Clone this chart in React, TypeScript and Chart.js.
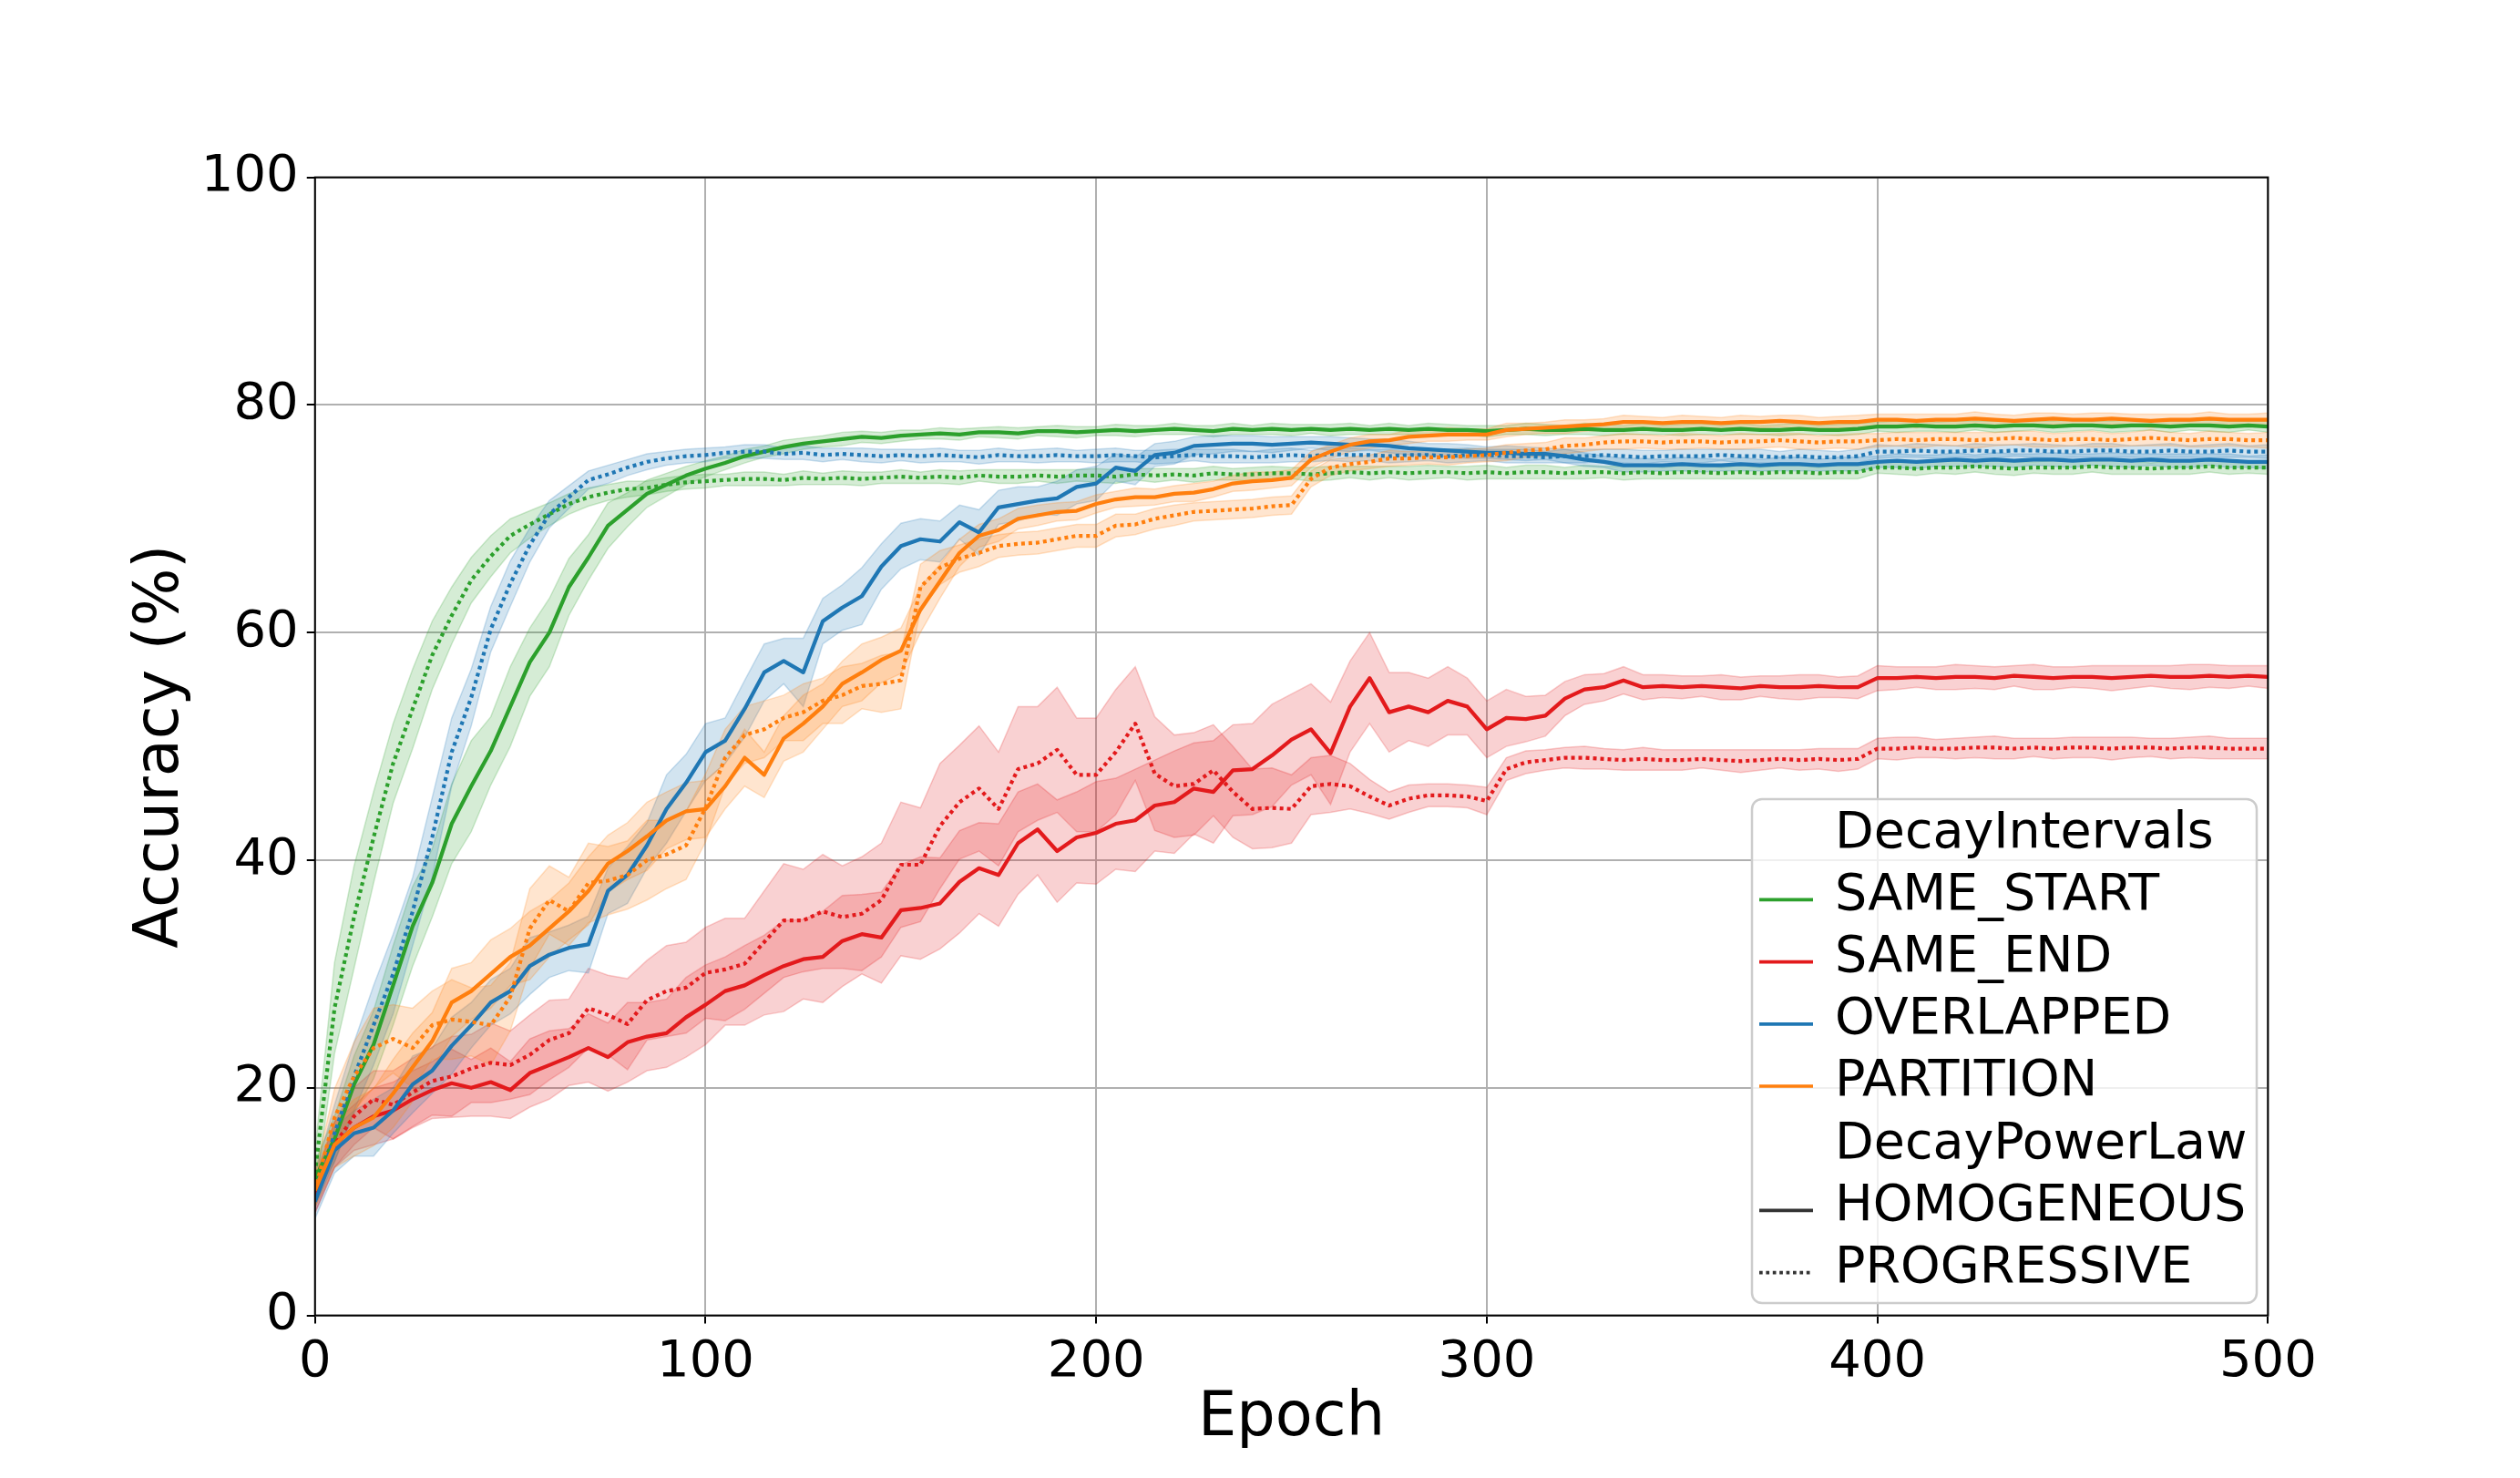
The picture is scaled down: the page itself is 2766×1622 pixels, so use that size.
import { useEffect, useRef } from "react"
import { Chart, registerables } from "chart.js"

Chart.register(...registerables)

// epochs sampled every 5 (0..500)
const epochs = Array.from({ length: 101 }, (_, i) => i * 5)

const intervalKinds = ["SAME_START", "SAME_END", "OVERLAPPED", "PARTITION"]
const powerLawKinds = ["HOMOGENEOUS", "PROGRESSIVE"]

// mean accuracy (%), one value per 5 epochs
const sameStartHom = [
  12.0, 15.5, 20.3, 23.8, 29.0, 34.2, 38.0, 43.2, 46.5, 49.6,
  53.5, 57.4, 60.0, 64.0, 66.6, 69.4, 70.8, 72.2, 73.0, 73.8,
  74.4, 74.9, 75.5, 75.9, 76.3, 76.6, 76.8, 77.0, 77.2, 77.1,
  77.3, 77.4, 77.5, 77.4, 77.6, 77.6, 77.5, 77.7, 77.7, 77.6,
  77.7, 77.8, 77.7, 77.8, 77.9, 77.8, 77.7, 77.9, 77.8, 77.9,
  77.8, 77.9, 77.8, 77.9, 77.8, 77.9, 77.8, 77.9, 77.8, 77.8,
  77.7, 77.8, 77.9, 77.8, 77.8, 77.9, 77.8, 77.8, 77.9, 77.8,
  77.8, 77.9, 77.8, 77.9, 77.8, 77.8, 77.9, 77.8, 77.8, 77.9,
  78.1, 78.1, 78.2, 78.1, 78.1, 78.2, 78.1, 78.2, 78.2, 78.1,
  78.2, 78.2, 78.1, 78.2, 78.2, 78.1, 78.2, 78.2, 78.1, 78.2,
  78.1,
]
const sameStartProg = [
  12.5, 27.0, 35.0, 42.0, 48.5, 53.3, 58.0, 61.5, 64.6, 66.7,
  68.5, 69.5, 70.4, 71.3, 71.9, 72.3, 72.6, 72.7, 73.0, 73.2,
  73.3, 73.4, 73.5, 73.5, 73.4, 73.6, 73.5, 73.6, 73.5, 73.6,
  73.7, 73.6, 73.7, 73.6, 73.8, 73.7, 73.7, 73.8, 73.7, 73.8,
  73.8, 73.7, 73.9, 73.8, 73.9, 73.8, 74.0, 73.9, 73.9, 74.0,
  74.0, 73.9, 74.0, 74.1, 74.0, 74.1, 74.0, 74.1, 74.1, 74.0,
  74.1, 74.0, 74.1, 74.1, 74.0, 74.1, 74.1, 74.0, 74.1, 74.0,
  74.1, 74.1, 74.0, 74.1, 74.0, 74.1, 74.1, 74.0, 74.1, 74.1,
  74.5, 74.5, 74.4, 74.5, 74.5, 74.6, 74.5, 74.4, 74.5, 74.5,
  74.5, 74.6, 74.5, 74.5, 74.4, 74.5, 74.5, 74.6, 74.5, 74.5,
  74.5,
]
const sameEndHom = [
  10.5, 15.0, 16.5, 17.5, 18.0, 19.0, 19.8, 20.4, 20.0, 20.5,
  19.8, 21.3, 22.0, 22.7, 23.5, 22.7, 24.0, 24.5, 24.8, 26.2,
  27.3, 28.5, 29.0, 29.9, 30.7, 31.3, 31.5, 32.9, 33.5, 33.2,
  35.6, 35.8, 36.2, 38.1, 39.3, 38.7, 41.5, 42.7, 40.8, 42.0,
  42.4, 43.2, 43.5, 44.8, 45.1, 46.3, 46.0, 47.9, 48.0, 49.2,
  50.6, 51.5, 49.4, 53.5, 56.0, 53.0, 53.5, 53.0, 54.0, 53.5,
  51.5, 52.5, 52.4, 52.7, 54.2, 55.0, 55.2, 55.8, 55.2, 55.3,
  55.2, 55.3, 55.2, 55.1, 55.3, 55.2, 55.2, 55.3, 55.2, 55.2,
  56.0, 56.0, 56.1, 56.0, 56.1, 56.1, 56.0, 56.2, 56.1, 56.0,
  56.1, 56.1, 56.0, 56.1, 56.2, 56.1, 56.1, 56.2, 56.1, 56.2,
  56.1,
]
const sameEndProg = [
  10.5, 15.0, 17.5, 19.0, 18.5, 19.6, 20.6, 21.0, 21.7, 22.2,
  22.0, 22.9, 24.2, 24.8, 27.0, 26.4, 25.6, 27.7, 28.5, 28.8,
  30.1, 30.4, 30.9, 32.8, 34.7, 34.7, 35.5, 35.0, 35.3, 36.5,
  39.6, 39.6, 43.0, 45.1, 46.3, 44.5, 48.0, 48.5, 49.7, 47.5,
  47.5, 49.5, 52.0, 47.6, 46.5, 46.7, 47.9, 46.0, 44.5, 44.6,
  44.5, 46.5, 46.7, 46.5, 45.6, 44.8, 45.4, 45.7, 45.7, 45.6,
  45.2, 48.0, 48.6, 48.8, 49.0, 49.0, 48.9, 48.8, 48.9, 48.8,
  48.8, 48.9, 48.8, 48.7, 48.8, 48.9, 48.8, 48.9, 48.8, 48.9,
  49.8, 49.8, 49.9, 49.8, 49.8, 49.9, 49.9, 49.8, 49.9, 49.8,
  49.9, 49.9, 49.8, 49.9, 49.9, 49.8, 49.9, 49.9, 49.8, 49.8,
  49.8,
]
const overlappedHom = [
  10.0, 14.5, 16.0, 16.5, 18.0, 20.3, 21.5, 23.7, 25.5, 27.5,
  28.5, 30.7, 31.7, 32.3, 32.6, 37.3, 38.7, 41.3, 44.5, 46.8,
  49.5, 50.5, 53.3, 56.5, 57.5, 56.5, 61.0, 62.2, 63.2, 65.8,
  67.6, 68.2, 68.0, 69.7, 68.8, 71.0, 71.3, 71.6, 71.8, 72.8,
  73.1, 74.5, 74.2, 75.6, 75.8, 76.4, 76.5, 76.6, 76.6, 76.5,
  76.6, 76.7, 76.6, 76.5, 76.5, 76.4, 76.2, 76.1, 76.0, 75.9,
  75.8, 75.8, 75.7, 75.7, 75.5, 75.2, 75.0, 74.7, 74.7, 74.7,
  74.8, 74.7, 74.7, 74.8, 74.7, 74.8, 74.8, 74.7, 74.8, 74.8,
  75.0, 75.1, 75.0, 75.1, 75.2, 75.1, 75.2, 75.1, 75.2, 75.2,
  75.1, 75.2, 75.2, 75.1, 75.2, 75.1, 75.1, 75.2, 75.1, 75.0,
  75.0,
]
const overlappedProg = [
  11.0, 16.0, 21.0, 25.5, 30.0, 35.5, 42.0, 49.5, 54.3, 60.3,
  64.3, 67.7, 70.4, 71.9, 73.4, 73.9, 74.5, 75.0, 75.3, 75.5,
  75.6, 75.8, 75.9, 75.9, 75.7, 75.8, 75.6, 75.7, 75.6, 75.5,
  75.6, 75.5, 75.6, 75.5, 75.4, 75.6, 75.5, 75.5, 75.6, 75.5,
  75.5, 75.6, 75.5, 75.4, 75.5, 75.6, 75.5, 75.5, 75.4, 75.5,
  75.6, 75.5, 75.7, 75.6, 75.6, 75.5, 75.6, 75.6, 75.5, 75.6,
  75.6, 75.5, 75.5, 75.4, 75.5, 75.5, 75.6, 75.5, 75.4, 75.5,
  75.5, 75.5, 75.6, 75.5, 75.5, 75.4, 75.5, 75.4, 75.4, 75.5,
  75.9, 75.9, 76.0, 75.9, 75.9, 76.0, 75.9, 76.0, 76.0, 75.9,
  75.9, 76.0, 76.0, 75.9, 75.9, 76.0, 75.9, 75.9, 76.0, 75.9,
  75.9,
]
const partitionHom = [
  11.0, 15.0, 16.5, 17.4, 19.5, 21.8, 24.1, 27.5, 28.5, 30.0,
  31.5, 32.5, 34.0, 35.5, 37.3, 39.7, 40.8, 42.1, 43.5, 44.3,
  44.5, 46.5, 49.0, 47.5, 50.7, 52.0, 53.5, 55.5, 56.5, 57.6,
  58.4, 62.0, 64.5, 67.0, 68.5, 69.0, 70.0, 70.3, 70.6, 70.7,
  71.3, 71.7, 71.9, 71.9, 72.2, 72.3, 72.6, 73.1, 73.3, 73.4,
  73.6, 75.2, 75.9, 76.5, 76.8, 76.9, 77.2, 77.3, 77.4, 77.4,
  77.4, 77.8, 77.9, 78.0, 78.1, 78.2, 78.3, 78.5, 78.5, 78.4,
  78.5, 78.5, 78.4, 78.5, 78.5, 78.6, 78.5, 78.4, 78.5, 78.5,
  78.7, 78.7, 78.6, 78.7, 78.7, 78.8, 78.7, 78.6, 78.7, 78.8,
  78.7, 78.7, 78.8, 78.7, 78.6, 78.7, 78.7, 78.8, 78.7, 78.7,
  78.7,
]
const partitionProg = [
  11.0, 17.4, 21.0, 23.5, 24.3, 23.5, 25.5, 26.0, 25.8, 25.5,
  28.0, 34.0, 36.5, 35.5, 38.0, 38.2, 38.7, 40.0, 40.5, 41.3,
  44.6, 49.0, 51.0, 51.5, 52.5, 53.0, 54.0, 54.5, 55.3, 55.5,
  55.8, 64.0, 65.7, 66.5, 67.0, 67.6, 67.8, 67.9, 68.2, 68.5,
  68.5, 69.4, 69.5, 70.0, 70.3, 70.6, 70.7, 70.8, 70.9, 71.1,
  71.2, 73.5, 74.5, 74.8, 75.0, 75.3, 75.3, 75.4, 75.4, 75.5,
  75.6, 75.8, 76.0, 76.1, 76.4, 76.5, 76.7, 76.8, 76.8, 76.7,
  76.8, 76.8, 76.7, 76.8, 76.8, 76.9, 76.8, 76.7, 76.8, 76.8,
  76.9, 77.0, 76.9, 77.0, 77.0, 76.9, 77.0, 77.1, 77.0, 76.9,
  77.0, 77.0, 76.9, 77.0, 77.1, 77.0, 76.9, 77.0, 77.0, 76.9,
  76.9,
]

// half-width of the shaded band around each mean
const sameStartHomSpread = [
  1.5, 2.0, 2.5, 3.0, 3.5, 3.5, 3.0, 3.5, 4.0, 3.0,
  3.5, 3.0, 3.0, 2.5, 2.0, 2.0, 1.5, 1.2, 1.0, 0.8,
  0.7, 0.6, 0.6, 0.5, 0.6, 0.5, 0.5, 0.6, 0.5, 0.5,
  0.5, 0.4, 0.5, 0.5, 0.4, 0.5, 0.5, 0.4, 0.5, 0.5,
  0.4, 0.5, 0.5, 0.4, 0.5, 0.4, 0.5, 0.5, 0.4, 0.5,
  0.5, 0.4, 0.5, 0.5, 0.4, 0.5, 0.4, 0.5, 0.5, 0.4,
  0.5, 0.4, 0.5, 0.5, 0.4, 0.5, 0.5, 0.4, 0.5, 0.4,
  0.5, 0.5, 0.4, 0.5, 0.4, 0.5, 0.5, 0.4, 0.5, 0.5,
  0.4, 0.5, 0.5, 0.4, 0.5, 0.4, 0.5, 0.5, 0.4, 0.5,
  0.5, 0.4, 0.5, 0.5, 0.4, 0.5, 0.4, 0.5, 0.5, 0.4,
  0.5,
]
const sameStartProgSpread = [
  2.0, 4.0, 4.5, 4.0, 3.5, 3.5, 3.0, 2.5, 2.0, 1.8,
  1.5, 1.2, 1.0, 0.9, 0.8, 0.7, 0.7, 0.6, 0.6, 0.6,
  0.6, 0.5, 0.6, 0.6, 0.5, 0.6, 0.5, 0.6, 0.6, 0.5,
  0.6, 0.5, 0.6, 0.6, 0.5, 0.6, 0.6, 0.5, 0.6, 0.5,
  0.6, 0.6, 0.5, 0.6, 0.5, 0.6, 0.6, 0.5, 0.6, 0.6,
  0.5, 0.6, 0.6, 0.5, 0.6, 0.5, 0.6, 0.6, 0.5, 0.6,
  0.6, 0.5, 0.6, 0.6, 0.5, 0.6, 0.5, 0.6, 0.6, 0.5,
  0.6, 0.6, 0.5, 0.6, 0.5, 0.6, 0.6, 0.5, 0.6, 0.6,
  0.5, 0.6, 0.6, 0.5, 0.6, 0.5, 0.6, 0.6, 0.5, 0.6,
  0.6, 0.5, 0.6, 0.6, 0.5, 0.6, 0.6, 0.5, 0.6, 0.5,
  0.6,
]
const sameEndHomSpread = [
  1.5, 2.0, 2.0, 2.5, 2.5, 2.5, 2.5, 3.0, 2.5, 3.0,
  2.5, 3.0, 3.0, 2.5, 3.0, 3.0, 3.5, 3.0, 3.0, 3.5,
  3.5, 3.0, 3.5, 3.5, 4.0, 3.5, 4.0, 4.0, 3.5, 4.0,
  4.0, 4.5, 4.0, 4.5, 4.0, 4.5, 4.5, 4.0, 4.5, 4.0,
  4.5, 4.0, 4.5, 4.0, 4.5, 4.0, 4.5, 4.0, 4.0, 4.5,
  4.0, 4.0, 4.5, 4.0, 4.0, 3.5, 3.0, 3.0, 3.0, 2.5,
  2.5, 2.5, 2.0, 1.8, 1.5, 1.3, 1.2, 1.2, 1.1, 1.0,
  1.0, 0.9, 1.1, 1.0, 0.9, 1.0, 1.1, 1.0, 0.9, 1.0,
  1.1, 1.0, 0.9, 1.0, 1.1, 1.0, 1.0, 0.9, 1.1, 1.0,
  0.9, 1.0, 1.1, 1.0, 0.9, 1.0, 1.1, 1.0, 1.0, 0.9,
  1.0,
]
const sameEndProgSpread = [
  1.5, 2.0, 2.5, 2.5, 3.0, 3.0, 3.0, 3.5, 3.0, 3.5,
  3.0, 3.5, 3.5, 3.0, 3.5, 3.5, 4.0, 3.5, 4.0, 4.0,
  4.0, 4.5, 4.0, 4.5, 5.0, 4.5, 5.0, 4.5, 5.0, 5.0,
  5.5, 5.0, 5.5, 5.0, 5.5, 5.0, 5.5, 5.0, 5.5, 5.0,
  5.0, 5.5, 5.0, 5.0, 4.5, 4.5, 4.0, 4.0, 3.5, 3.5,
  3.0, 2.5, 2.5, 2.0, 1.5, 1.2, 1.2, 1.0, 1.0, 1.0,
  1.2, 1.0, 1.0, 0.9, 0.9, 1.0, 0.9, 0.9, 1.0, 0.9,
  0.9, 0.8, 0.9, 1.0, 0.9, 0.8, 0.9, 0.9, 1.0, 0.9,
  0.9, 1.0, 0.9, 0.8, 0.9, 0.9, 1.0, 0.9, 0.8, 0.9,
  0.9, 0.9, 1.0, 0.9, 0.8, 0.9, 0.9, 1.0, 0.9, 0.9,
  0.9,
]
const overlappedHomSpread = [
  1.5, 2.0, 2.0, 2.5, 2.0, 2.5, 2.0, 2.5, 2.0, 2.0,
  2.0, 2.5, 2.0, 2.0, 2.5, 2.0, 2.5, 2.0, 3.0, 2.5,
  2.5, 2.0, 2.5, 2.5, 2.0, 3.0, 2.0, 2.0, 2.5, 2.0,
  2.0, 1.8, 1.8, 1.5, 2.0, 1.5, 1.5, 1.2, 1.5, 1.5,
  1.5, 1.2, 1.2, 1.0, 1.0, 0.8, 0.8, 0.7, 0.7, 0.7,
  0.6, 0.5, 0.6, 0.6, 0.5, 0.6, 0.6, 0.5, 0.6, 0.6,
  0.5, 0.6, 0.6, 0.5, 0.6, 0.6, 0.5, 0.6, 0.6, 0.5,
  0.6, 0.6, 0.5, 0.6, 0.5, 0.6, 0.6, 0.5, 0.6, 0.6,
  0.5, 0.6, 0.6, 0.5, 0.6, 0.5, 0.6, 0.6, 0.5, 0.6,
  0.6, 0.5, 0.6, 0.6, 0.5, 0.6, 0.6, 0.5, 0.6, 0.5,
  0.6,
]
const overlappedProgSpread = [
  1.5, 2.5, 3.0, 3.5, 3.5, 3.0, 3.5, 3.0, 2.5, 2.0,
  2.0, 1.5, 1.2, 1.0, 0.8, 0.8, 0.7, 0.7, 0.6, 0.6,
  0.6, 0.5, 0.6, 0.6, 0.5, 0.6, 0.6, 0.5, 0.6, 0.6,
  0.5, 0.6, 0.6, 0.5, 0.6, 0.6, 0.5, 0.6, 0.6, 0.5,
  0.6, 0.6, 0.5, 0.6, 0.6, 0.5, 0.6, 0.6, 0.5, 0.6,
  0.6, 0.5, 0.6, 0.6, 0.5, 0.6, 0.6, 0.5, 0.6, 0.6,
  0.5, 0.6, 0.6, 0.5, 0.6, 0.6, 0.5, 0.6, 0.6, 0.5,
  0.6, 0.6, 0.5, 0.6, 0.6, 0.5, 0.6, 0.6, 0.5, 0.6,
  0.6, 0.5, 0.6, 0.6, 0.5, 0.6, 0.6, 0.5, 0.6, 0.6,
  0.5, 0.6, 0.6, 0.5, 0.6, 0.6, 0.5, 0.6, 0.6, 0.5,
  0.6,
]
const partitionHomSpread = [
  1.5, 2.0, 2.5, 2.5, 3.0, 3.0, 2.5, 3.0, 2.5, 3.0,
  2.5, 3.0, 2.5, 2.5, 3.0, 2.5, 2.5, 3.0, 2.5, 2.5,
  2.5, 2.0, 2.5, 2.0, 2.0, 2.5, 2.0, 2.0, 2.5, 2.0,
  2.0, 2.0, 1.5, 1.2, 1.0, 1.0, 0.9, 0.9, 0.8, 0.8,
  0.8, 0.7, 0.8, 0.7, 0.7, 0.8, 0.7, 0.7, 0.8, 0.7,
  0.7, 0.7, 0.6, 0.6, 0.6, 0.5, 0.6, 0.5, 0.6, 0.5,
  0.5, 0.6, 0.5, 0.5, 0.6, 0.5, 0.5, 0.6, 0.5, 0.5,
  0.6, 0.5, 0.5, 0.6, 0.5, 0.5, 0.6, 0.5, 0.5, 0.6,
  0.5, 0.5, 0.6, 0.5, 0.5, 0.6, 0.5, 0.5, 0.6, 0.5,
  0.5, 0.6, 0.5, 0.5, 0.6, 0.5, 0.5, 0.6, 0.5, 0.5,
  0.6,
]
const partitionProgSpread = [
  1.5, 2.5, 3.0, 3.5, 3.0, 3.5, 3.0, 3.5, 3.0, 3.5,
  3.0, 3.5, 3.0, 3.0, 3.5, 3.0, 3.0, 3.5, 3.0, 3.0,
  3.0, 2.5, 2.5, 2.5, 2.0, 2.5, 2.0, 2.5, 2.0, 2.5,
  2.5, 2.0, 1.5, 1.2, 1.2, 1.0, 1.0, 1.0, 1.0, 1.0,
  1.0, 1.0, 0.9, 0.9, 0.9, 0.8, 0.8, 0.8, 0.8, 0.8,
  0.8, 0.7, 0.7, 0.6, 0.6, 0.7, 0.6, 0.6, 0.7, 0.6,
  0.6, 0.7, 0.6, 0.6, 0.7, 0.6, 0.6, 0.7, 0.6, 0.6,
  0.7, 0.6, 0.6, 0.7, 0.6, 0.6, 0.7, 0.6, 0.6, 0.7,
  0.6, 0.6, 0.7, 0.6, 0.6, 0.7, 0.6, 0.6, 0.7, 0.6,
  0.6, 0.7, 0.6, 0.6, 0.7, 0.6, 0.6, 0.7, 0.6, 0.6,
  0.7,
]

const GREEN = "#2ca02c"
const RED = "#e31a1c"
const BLUE = "#1f77b4"
const ORANGE = "#ff7f0e"
const HUE_COLORS = [GREEN, RED, BLUE, ORANGE]

const FONT = "'DejaVu Sans', 'Liberation Sans', sans-serif"
const LINE_W = 4.2
const HANDLE_W = 3.7
const DOTS = [4, 4]

// drawing order follows seaborn: hue by hue, HOMOGENEOUS then PROGRESSIVE
const series = [
  { hue: 0, style: 0, mean: sameStartHom, spread: sameStartHomSpread },
  { hue: 0, style: 1, mean: sameStartProg, spread: sameStartProgSpread },
  { hue: 1, style: 0, mean: sameEndHom, spread: sameEndHomSpread },
  { hue: 1, style: 1, mean: sameEndProg, spread: sameEndProgSpread },
  { hue: 2, style: 0, mean: overlappedHom, spread: overlappedHomSpread },
  { hue: 2, style: 1, mean: overlappedProg, spread: overlappedProgSpread },
  { hue: 3, style: 0, mean: partitionHom, spread: partitionHomSpread },
  { hue: 3, style: 1, mean: partitionProg, spread: partitionProgSpread },
]

function alpha(hex: string, a: number) {
  const n = parseInt(hex.slice(1), 16)
  return `rgba(${(n >> 16) & 255},${(n >> 8) & 255},${n & 255},${a})`
}

function buildDatasets() {
  const out: any[] = []
  series.forEach((s, k) => {
    const c = HUE_COLORS[s.hue]
    const common = { pointRadius: 0, pointHoverRadius: 0, tension: 0 }
    out.push({
      ...common,
      label: "lo",
      data: epochs.map((x, i) => ({ x, y: s.mean[i] - s.spread[i] })),
      borderColor: alpha(c, 0.22),
      borderWidth: 1.5,
      fill: false,
      order: 300 - k,
    })
    out.push({
      ...common,
      label: "hi",
      data: epochs.map((x, i) => ({ x, y: s.mean[i] + s.spread[i] })),
      borderColor: alpha(c, 0.22),
      backgroundColor: alpha(c, 0.2),
      borderWidth: 1.5,
      fill: "-1",
      order: 300 - k,
    })
    out.push({
      ...common,
      label: intervalKinds[s.hue] + " " + powerLawKinds[s.style],
      data: epochs.map((x, i) => ({ x, y: s.mean[i] })),
      borderColor: c,
      borderWidth: LINE_W,
      borderDash: s.style === 1 ? DOTS : [],
      borderJoinStyle: "round",
      fill: false,
      order: 100 - k,
    })
  })
  return out
}

// box around the axes + seaborn style legend in the lower right
const framePlugin = {
  id: "frameAndLegend",
  afterDatasetsDraw(chart: Chart) {
    const { ctx, chartArea: a } = chart
    ctx.save()
    ctx.strokeStyle = "#000"
    ctx.lineWidth = 2
    ctx.setLineDash([])
    ctx.strokeRect(a.left, a.top, a.right - a.left, a.bottom - a.top)

    const w = 554
    const h = 553
    const bx = a.right - 12.4 - w
    const by = a.bottom - 13.6 - h
    ctx.beginPath()
    ctx.roundRect(bx, by, w, h, 11)
    ctx.fillStyle = "rgba(255,255,255,0.8)"
    ctx.fill()
    ctx.strokeStyle = "#cccccc"
    ctx.lineWidth = 2.5
    ctx.stroke()

    const rows: { text: string; color?: string; dash?: number[] }[] = [
      { text: "DecayIntervals" },
      ...intervalKinds.map((t, i) => ({ text: t, color: HUE_COLORS[i], dash: [] as number[] })),
      { text: "DecayPowerLaw" },
      { text: powerLawKinds[0], color: "#333333", dash: [] },
      { text: powerLawKinds[1], color: "#333333", dash: [3.7, 3.7] },
    ]
    ctx.font = `55.5px ${FONT}`
    ctx.textBaseline = "alphabetic"
    ctx.textAlign = "left"
    rows.forEach((r, i) => {
      const hy = by + 42.2 + i * 68.2
      if (r.color) {
        ctx.beginPath()
        ctx.setLineDash(r.dash || [])
        ctx.strokeStyle = r.color
        ctx.lineWidth = HANDLE_W
        ctx.moveTo(bx + 8, hy)
        ctx.lineTo(bx + 67, hy)
        ctx.stroke()
        ctx.setLineDash([])
      }
      ctx.fillStyle = "#000"
      ctx.fillText(r.text, bx + 91, hy + 10.3)
    })
    ctx.restore()
  },
}

export default function App() {
  const canvasRef = useRef<HTMLCanvasElement | null>(null)
  const chartRef = useRef<Chart | null>(null)

  useEffect(() => {
    document.body.style.margin = "0"
    document.body.style.overflow = "hidden"
    if (!canvasRef.current) return
    if (chartRef.current) chartRef.current.destroy()

    const gridCommon = {
      color: "#b0b0b0",
      lineWidth: 2,
      tickLength: 9,
      tickColor: "#000",
      tickWidth: 2,
    }

    chartRef.current = new Chart(canvasRef.current, {
      type: "line",
      data: { datasets: buildDatasets() },
      options: {
        responsive: false,
        animation: false,
        devicePixelRatio: 1,
        layout: { padding: { left: 0, right: 276.6, top: 194.6, bottom: 0 } },
        plugins: {
          legend: { display: false },
          tooltip: { enabled: false },
        },
        scales: {
          x: {
            type: "linear",
            min: 0,
            max: 500,
            border: { display: false },
            grid: gridCommon,
            ticks: {
              stepSize: 100,
              padding: 9,
              color: "#000",
              maxRotation: 0,
              font: { family: FONT, size: 56 },
            },
            title: {
              display: true,
              text: "Epoch",
              color: "#000",
              font: { family: FONT, size: 67 },
              padding: { top: 0, bottom: 23.8 },
            },
            afterFit: (s: any) => {
              s.height = 178.4
            },
          },
          y: {
            type: "linear",
            min: 0,
            max: 100,
            border: { display: false },
            grid: gridCommon,
            ticks: {
              stepSize: 20,
              padding: 9,
              color: "#000",
              font: { family: FONT, size: 56 },
            },
            title: {
              display: true,
              text: "Accuracy (%)",
              color: "#000",
              font: { family: FONT, size: 67 },
              padding: { top: 137, bottom: 0 },
            },
            afterFit: (s: any) => {
              s.width = 345.75
            },
          },
        },
      },
      plugins: [framePlugin],
    })

    return () => {
      if (chartRef.current) {
        chartRef.current.destroy()
        chartRef.current = null
      }
    }
  }, [])

  return (
    <div style={{ width: 2766, height: 1622 }}>
      <canvas ref={canvasRef} width={2766} height={1622} style={{ display: "block" }} />
    </div>
  )
}
